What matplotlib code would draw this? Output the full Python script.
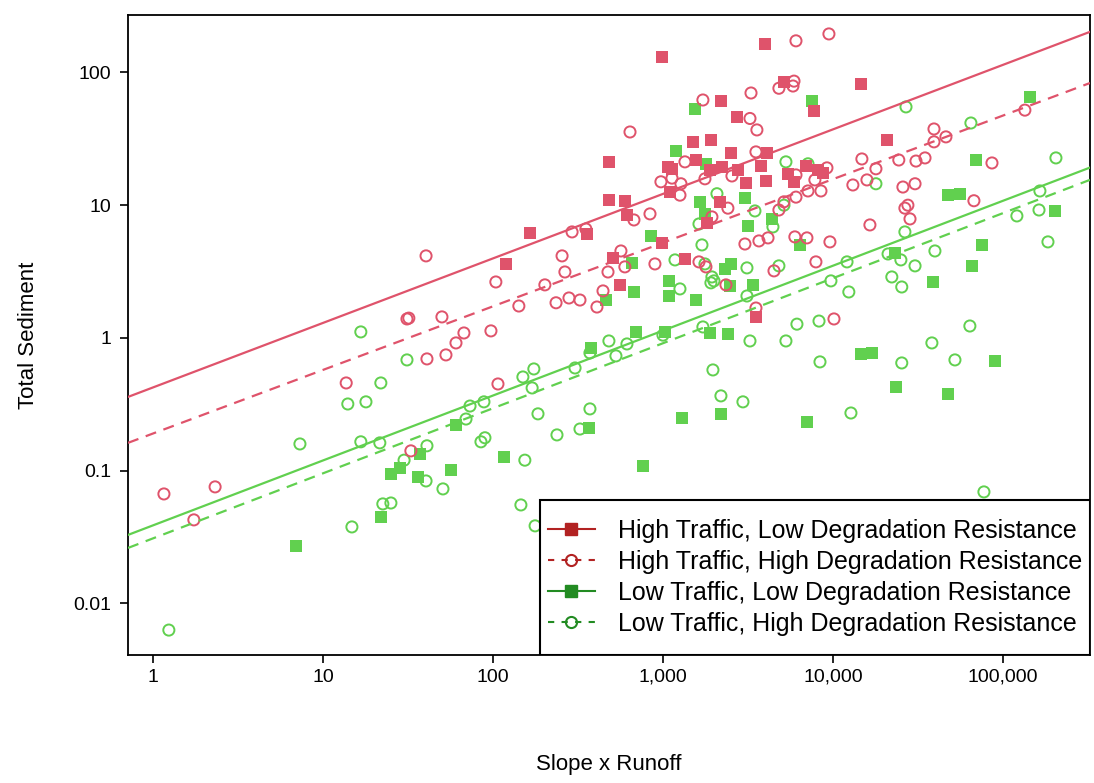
import numpy as np
import matplotlib
matplotlib.use('Agg')
import matplotlib.pyplot as plt
from matplotlib.lines import Line2D
from matplotlib.patches import Rectangle
from matplotlib.ticker import FixedLocator, NullLocator

plt.rcParams['font.family'] = ['Liberation Sans', 'DejaVu Sans']

# High traffic, low degradation resistance (filled squares)
hl_x = [986, 3981, 2193, 2725, 5150, 7730, 14600, 20800, 1500, 1915, 2512, 4090,
        481, 1563, 1070, 1130, 1890, 2223, 2762, 3770, 5430, 5900, 8160, 8730,
        3077, 4035, 1100, 2163, 597, 481, 614, 1815, 6940, 165, 357, 119, 986,
        508, 1347, 558, 3524]
hl_y = [131, 164, 61, 46, 85, 51, 82, 31, 30, 31, 24.8, 24.8,
        21.2, 21.9, 19.4, 18.8, 18.4, 19.4, 18.4, 19.8, 17.2, 15.0, 18.4, 17.5,
        14.7, 15.2, 12.6, 10.6, 10.8, 11.0, 8.45, 7.35, 19.8, 6.18, 6.07, 3.61, 5.2,
        4.0, 3.94, 2.51, 1.44]

# High traffic, high degradation resistance (open circles)
hh_x = [6060, 9470, 1718, 3296, 4810, 5900, 5820, 3250, 3570, 640, 3524, 1347,
        1766, 2546, 973, 1130, 1276, 1259, 839, 675, 6060, 7830, 9220, 7130,
        8500, 6060, 5150, 4810, 2410, 1941, 4150, 5970, 7030, 134600, 39300, 46200,
        39300, 14800, 24400, 30800, 34800, 17900, 86200, 13100, 15850, 25800, 30400, 27600,
        26500, 28400, 67500, 16500, 566, 597, 475, 897, 1629, 1790, 2348, 3035,
        3670, 4500, 7940, 9600, 3524, 10140, 40.4, 255, 104, 265, 202, 142,
        235, 280, 325, 409, 444, 31.2, 32, 50.1, 67.5, 60.6, 97.3, 52.9,
        40.9, 107, 32.9, 292, 352, 13.7, 1.16, 2.32, 1.74]
hh_y = [173, 195, 62, 70, 76, 86, 79, 45, 36.9, 35.6, 25.2, 21.2,
        15.8, 16.6, 15.0, 16.0, 14.5, 11.9, 8.6, 7.74, 16.9, 15.5, 19.1, 12.8,
        12.8, 11.5, 10.6, 9.2, 9.5, 8.16, 5.67, 5.77, 5.67, 52, 37.5, 32.7,
        30, 22.3, 21.9, 21.5, 22.7, 18.8, 20.8, 14.2, 15.5, 13.7, 14.5, 10.0,
        9.5, 7.88, 10.8, 7.1, 4.52, 3.43, 3.14, 3.61, 3.74, 3.43, 2.51, 5.1,
        5.38, 3.2, 3.74, 5.29, 1.68, 1.39, 4.15, 4.15, 2.64, 3.14, 2.51, 1.74,
        1.84, 2.0, 1.93, 1.71, 2.26, 1.39, 1.41, 1.44, 1.09, 0.917, 1.13, 0.745,
        0.695, 0.45, 0.141, 6.29, 6.62, 0.458, 0.0668, 0.0755, 0.0426]

# Low traffic, low degradation resistance (filled squares)
ll_x = [1543, 7520, 1192, 1790, 1652, 3035, 1766, 4375, 3162, 850, 144200, 69300,
        47500, 55800, 202000, 23200, 75200, 65700, 38700, 14600, 16960, 89700, 23500, 47500,
        657, 1084, 675, 1084, 1563, 2317, 2512, 2478, 3384, 6400, 694, 1028,
        1890, 2410, 1294, 2193, 7030, 462, 377, 60.6, 367, 116, 37.2, 25.1,
        28.4, 36.2, 56.6, 21.9, 763, 6.94]
ll_y = [53, 61, 25.6, 20.5, 10.6, 11.3, 8.6, 7.88, 6.98, 5.87, 65, 21.9,
        11.9, 12.2, 9.05, 4.37, 5.02, 3.49, 2.64, 0.757, 0.771, 0.671, 0.428, 0.379,
        3.67, 2.69, 2.22, 2.07, 1.93, 3.31, 3.61, 2.46, 2.51, 5.02, 1.11, 1.11,
        1.09, 1.07, 0.25, 0.268, 0.233, 1.93, 0.841, 0.221, 0.21, 0.127, 0.134, 0.0945,
        0.105, 0.0897, 0.101, 0.0448, 0.109, 0.0271]

# Low traffic, high degradation resistance (open circles)
lh_x = [5290, 7130, 2078, 3476, 5150, 1629, 4436, 26900, 64800, 205000, 17900, 165000,
        163000, 120800, 26500, 184000, 39800, 21100, 25100, 30400, 22200, 25400, 12400, 12100,
        63900, 38200, 52200, 25400, 12760, 77300, 1696, 1177, 1766, 1941, 1995, 1915,
        1259, 3120, 4810, 3120, 9730, 6140, 8280, 1718, 1000, 614, 481, 529,
        3250, 5290, 1968, 8390, 2193, 2955, 31.2, 21.9, 17.9, 150, 174, 170,
        304, 372, 73.3, 88.5, 69.4, 184, 372, 325, 238, 85, 89.7, 40.9,
        21.6, 16.7, 14.0, 16.7, 7.32, 30, 40.4, 50.8, 22.5, 25.1, 154, 146,
        177, 14.8, 1.24]
lh_y = [21.2, 20.5, 12.2, 9.05, 10.0, 7.22, 6.86, 55, 41.6, 22.7, 14.5, 12.8,
        9.2, 8.3, 6.29, 5.29, 4.52, 4.29, 3.87, 3.49, 2.88, 2.42, 2.22, 3.74,
        1.23, 0.917, 0.683, 0.648, 0.272, 0.0692, 5.02, 3.87, 3.61, 2.88, 2.69, 2.6,
        2.34, 3.37, 3.49, 2.07, 2.69, 1.27, 1.34, 1.21, 1.05, 0.901, 0.949, 0.732,
        0.949, 0.949, 0.574, 0.66, 0.366, 0.33, 0.683, 0.458, 0.33, 0.508, 0.584, 0.42,
        0.594, 0.771, 0.307, 0.33, 0.245, 0.268, 0.292, 0.206, 0.186, 0.165, 0.177, 0.154,
        0.162, 1.11, 0.318, 0.165, 0.159, 0.12, 0.0837, 0.0729, 0.0562, 0.0571, 0.12, 0.0552,
        0.0384, 0.0377, 0.0063]

# fitted log10(y) = a + b*log10(x)
fit_a = [-0.373, -0.72, -1.412, -1.51]
fit_b = [0.486, 0.479, 0.489, 0.49]

labels = ['High Traffic, Low Degradation Resistance',
          'High Traffic, High Degradation Resistance',
          'Low Traffic, Low Degradation Resistance',
          'Low Traffic, High Degradation Resistance']

xticks = [1, 10, 100, 1000, 10000, 100000]
xticklabels = ['1', '10', '100', '1,000', '10,000', '100,000']
yticks = [0.01, 0.1, 1, 10, 100]
yticklabels = ['0.01', '0.1', '1', '10', '100']

red = '#DF536B'
green = '#61D04F'
red_dark = '#B22222'
green_dark = '#228B22'

fig = plt.figure(figsize=(10.94, 7.83), dpi=100)
ax = fig.add_axes([0.117, 0.1635, 0.8793, 0.8174])
ax.set_xscale('log')
ax.set_yscale('log')
xlim = (0.713, 325000)
ax.set_xlim(xlim)
ax.set_ylim(0.00409, 271)

ms = 8
ax.scatter(ll_x, ll_y, marker='s', s=ms**2, color=green, linewidths=0, zorder=2)
ax.scatter(lh_x, lh_y, marker='o', s=ms**2, facecolors='none', edgecolors=green, linewidths=1.4, zorder=2)
ax.scatter(hl_x, hl_y, marker='s', s=ms**2, color=red, linewidths=0, zorder=2)
ax.scatter(hh_x, hh_y, marker='o', s=ms**2, facecolors='none', edgecolors=red, linewidths=1.4, zorder=2)

xx = np.logspace(np.log10(xlim[0]), np.log10(xlim[1]), 50)
styles = [(red, '-'), (red, (0, (5, 3.5))), (green, '-'), (green, (0, (5, 3.5)))]
for a, b, (c, ls) in zip(fit_a, fit_b, styles):
    ax.plot(xx, 10 ** (a + b * np.log10(xx)), color=c, linestyle=ls, linewidth=1.6, zorder=3)

ax.xaxis.set_major_locator(FixedLocator(xticks))
ax.set_xticklabels(xticklabels)
ax.yaxis.set_major_locator(FixedLocator(yticks))
ax.set_yticklabels(yticklabels)
ax.xaxis.set_minor_locator(NullLocator())
ax.yaxis.set_minor_locator(NullLocator())
ax.tick_params(axis='both', which='major', length=6, width=1.2, labelsize=14, direction='out')
ax.tick_params(axis='x', pad=4)
ax.tick_params(axis='y', pad=6)
for sp in ax.spines.values():
    sp.set_linewidth(1.3)

ax.set_xlabel('Slope x Runoff', fontsize=16)
ax.set_ylabel('Total Sediment', fontsize=16)
ax.xaxis.set_label_coords(0.5, -0.155)
ax.yaxis.set_label_coords(-0.093, 0.5)

# legend box (drawn separately so the padding can match)
box = (0.428, 0.0, 0.572, 0.242)
ax.add_patch(Rectangle(box[:2], box[2], box[3], transform=ax.transAxes,
                       facecolor='white', edgecolor='black', linewidth=1.5, zorder=4))

handles = [
    Line2D([], [], color=red_dark, linestyle='-', marker='s', markersize=ms, linewidth=1.5),
    Line2D([], [], color=red_dark, linestyle=(0, (3, 3.5)), marker='o', markersize=ms,
           markerfacecolor='none', markeredgewidth=1.5, linewidth=1.5),
    Line2D([], [], color=green_dark, linestyle='-', marker='s', markersize=ms, linewidth=1.5),
    Line2D([], [], color=green_dark, linestyle=(0, (3, 3.5)), marker='o', markersize=ms,
           markerfacecolor='none', markeredgewidth=1.5, linewidth=1.5),
]
leg = ax.legend(handles, labels, loc='center', bbox_to_anchor=box, bbox_transform=ax.transAxes,
                fontsize=18, frameon=False, borderaxespad=0, borderpad=0, handlelength=1.9,
                handletextpad=0.9, labelspacing=0.28)
leg.set_zorder(5)

fig.savefig('out.png', dpi=100)
